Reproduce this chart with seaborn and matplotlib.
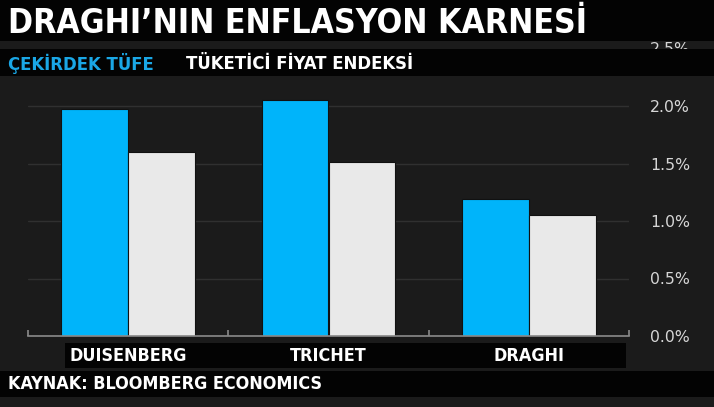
import matplotlib
matplotlib.use("Agg")
import matplotlib.pyplot as plt
import matplotlib.transforms as mtransforms
from matplotlib.patches import Rectangle
from matplotlib.ticker import FixedLocator, FuncFormatter
import seaborn as sns
import pandas as pd

categories = ["DUISENBERG", "TRICHET", "DRAGHI"]
core_cpi = [1.97, 2.05, 1.19]
headline_cpi = [1.60, 1.51, 1.05]
series_names = ["ÇEKİRDEK TÜFE", "TÜKETİCİ FİYAT ENDEKSİ"]
y_ticks = [0.0, 0.5, 1.0, 1.5, 2.0, 2.5]
title = "DRAGHI’NIN ENFLASYON KARNESİ"
source = "KAYNAK: BLOOMBERG ECONOMICS"

BG = "#1b1b1b"
BAND = "#030303"
BLUE = "#00b4fa"
WHITE = "#e9e9e9"

df = pd.DataFrame({
    "cat": categories * 2,
    "series": [series_names[0]] * 3 + [series_names[1]] * 3,
    "value": core_cpi + headline_cpi,
})

sns.set_theme(style="dark")
plt.rcParams["font.family"] = ["DejaVu Sans"]

W, H = 714, 407
fig = plt.figure(figsize=(W / 100, H / 100), dpi=100, facecolor=BG)
ax = fig.add_axes([28 / W, (H - 336) / H, 601 / W, 287.5 / H])
ax.set_facecolor(BG)

sns.barplot(data=df, x="cat", y="value", hue="series", order=categories,
            hue_order=series_names, palette=[BLUE, WHITE], width=0.667,
            edgecolor="#111111", linewidth=0.8, saturation=1, ax=ax, legend=False)

ax.set_xlim(-0.5, 2.5)
ax.set_ylim(0, 2.5)
ax.set_xlabel("")
ax.set_ylabel("")
for s in ["top", "left", "right"]:
    ax.spines[s].set_visible(False)
ax.spines["bottom"].set_color("#8a8a8a")
ax.spines["bottom"].set_linewidth(1.2)

ax.yaxis.set_major_locator(FixedLocator(y_ticks))
ax.yaxis.set_major_formatter(FuncFormatter(lambda v, p: f"{v:.1f}%"))
ax.yaxis.tick_right()
ax.tick_params(axis="y", length=0, pad=15, labelsize=11.3, labelcolor="#d6d6d6")
ax.grid(axis="y", color="#303030", linewidth=1)
ax.grid(axis="x", visible=False)
ax.set_axisbelow(True)

ax.set_xticks([-0.5, 0.5, 1.5, 2.5])
ax.set_xticklabels([])
ax.tick_params(axis="x", direction="in", length=4, width=1.2, color="#8a8a8a", bottom=True)

cond = dict(family="DejaVu Sans", fontstretch="condensed", fontweight="bold")

def fy(py):
    return (H - py) / H

# bands
fig.patches.append(Rectangle((0, fy(41)), 1, 41 / H, transform=fig.transFigure,
                             facecolor=BAND, edgecolor="none", zorder=2))
fig.patches.append(Rectangle((0, fy(76)), 1, 27 / H, transform=fig.transFigure,
                             facecolor=BAND, edgecolor="none", zorder=2))
fig.patches.append(Rectangle((65 / W, fy(368)), (626 - 65) / W, 25 / H, transform=fig.transFigure,
                             facecolor=BAND, edgecolor="none", zorder=2))
fig.patches.append(Rectangle((0, fy(397)), 1, 26 / H, transform=fig.transFigure,
                             facecolor=BAND, edgecolor="none", zorder=2))

fig.text(8 / W, fy(23.5), title, color="white", fontsize=24.2, va="center", ha="left", zorder=3, **cond)
fig.text(8 / W, fy(64), series_names[0], color="#1aa7e6", fontsize=13.2, va="center", ha="left", zorder=3, **cond)
fig.text(186 / W, fy(64), series_names[1], color="white", fontsize=13.2, va="center", ha="left", zorder=3, **cond)
fig.text(8 / W, fy(384), source, color="white", fontsize=12.9, va="center", ha="left", zorder=3, **cond)

trans = mtransforms.blended_transform_factory(ax.transData, fig.transFigure)
for i, c in enumerate(categories):
    fig.text(i, fy(356), c, transform=trans, color="white", fontsize=12.9, ha="center", va="center",
             zorder=4, **cond)

fig.savefig("out.png", dpi=100, facecolor=BG)
